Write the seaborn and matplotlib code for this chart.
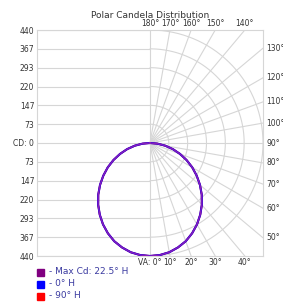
import numpy as np
import pandas as pd
import matplotlib
matplotlib.use("Agg")
import matplotlib.pyplot as plt
import seaborn as sns

# ---- data ----
vert_angles = [0, 5, 10, 15, 20, 25, 30, 35, 40, 45, 50, 55, 60, 65, 70, 75, 80, 85, 90]
cd_max = [440, 438, 432, 421, 407, 388, 366, 341, 314, 285, 254, 222, 190, 157, 124, 92, 60, 29, 0]
cd_0h = [440, 438, 432, 421, 407, 388, 366, 341, 314, 285, 254, 222, 190, 157, 124, 92, 60, 29, 0]
cd_90h = [440, 438, 432, 421, 407, 388, 366, 341, 314, 285, 254, 222, 190, 157, 124, 92, 60, 29, 0]
series_names = ["- Max Cd: 22.5° H", "- 0° H", "- 90° H"]
series_colors = ["#800080", "#0000FF", "#FF0000"]
cd_ticks = [440, 367, 293, 220, 147, 73, 0, 73, 147, 220, 293, 367, 440]
top_labels = [180, 170, 160, 150, 140]
right_labels = [130, 120, 110, 100, 90, 80, 70, 60, 50]
bottom_labels = [0, 10, 20, 30, 40]
RMAX = 440

sns.set_style("white")
plt.rcParams['font.family'] = ['DejaVu Sans']

fig = plt.figure(figsize=(2.83, 3.06), dpi=100)
ax = fig.add_axes([37/283, 1 - 256/306, 226/283, 226/306])
ax.set_xlim(-RMAX, RMAX)
ax.set_ylim(-RMAX, RMAX)

grid_c = "#d6d6d6"
step = RMAX / 6
# left half: horizontal lines
for k in range(-6, 7):
    ax.plot([-RMAX, 0], [k * step, k * step], color=grid_c, lw=0.8, zorder=1)
# right half: arcs
t = np.linspace(0, np.pi, 200)
for k in range(1, 7):
    r = k * step
    ax.plot(r * np.sin(t), -r * np.cos(t), color=grid_c, lw=0.8, zorder=1)
# radial lines every 10 deg
for a in range(0, 181, 10):
    th = np.deg2rad(a)
    s, c = np.sin(th), -np.cos(th)
    m = max(abs(s), abs(c))
    L = RMAX / m
    ax.plot([0, L * s], [0, L * c], color=grid_c, lw=0.8, zorder=1)

# ---- curves ----
def make_df(vals, name):
    th = np.deg2rad(vert_angles)
    v = np.array(vals, dtype=float)
    xr = v * np.sin(th)
    yr = -v * np.cos(th)
    x = np.concatenate([-xr[::-1], xr[1:]])
    y = np.concatenate([yr[::-1], yr[1:]])
    return pd.DataFrame({"x": x, "y": y, "series": name})

df = pd.concat([make_df(cd_90h, series_names[2]), make_df(cd_0h, series_names[1]),
                make_df(cd_max, series_names[0])])
for name, col, lw in [(series_names[2], series_colors[2], 1.4),
                      (series_names[1], series_colors[1], 1.5),
                      (series_names[0], "#8a1fb8", 1.0)]:
    sub = df[df.series == name]
    sns.lineplot(data=sub, x="x", y="y", sort=False, color=col, lw=lw, ax=ax,
                 estimator=None, zorder=3)

for sp in ax.spines.values():
    sp.set_color(grid_c)
    sp.set_linewidth(0.8)

ax.set_xlabel("")
ax.set_ylabel("")
ax.set_xticks([])
yt = [RMAX - i * step for i in range(13)]
ax.set_yticks(yt)
ylabels = [("CD: 0" if v == 0 else str(v)) for v in cd_ticks]
ax.set_yticklabels(ylabels, fontsize=5.5, color="#333333")
ax.tick_params(axis="y", length=0, pad=2)

fs = 5.5
tc = "#333333"
for a in top_labels:
    x = RMAX * np.tan(np.deg2rad(180 - a))
    ax.text(x, RMAX + 6, f"{a}°", ha="center", va="bottom", fontsize=fs, color=tc)
for a in bottom_labels:
    x = RMAX * np.tan(np.deg2rad(a))
    lab = "VA: 0°" if a == 0 else f"{a}°"
    ax.text(x, -RMAX - 8, lab, ha="center", va="top", fontsize=fs, color=tc)
for a in right_labels:
    y = RMAX * np.tan(np.deg2rad(a - 90))
    ax.text(RMAX + 12, y, f"{a}°", ha="left", va="center", fontsize=fs, color=tc)

fig.text(150/283, 1 - 15/306, "Polar Candela Distribution", ha="center", va="center",
         fontsize=6.5, color="#333333")

# legend
ly = [272, 284, 296]
for name, col, y in zip(series_names, series_colors, ly):
    fig.patches.append(plt.Rectangle((37/283, 1 - (y + 4)/306), 7/283, 7/306,
                                     transform=fig.transFigure, color=col, figure=fig))
    fig.text(49/283, 1 - y/306, name, ha="left", va="center", fontsize=6.5, color="#3a3aa0")

fig.savefig("out.png", dpi=100)
